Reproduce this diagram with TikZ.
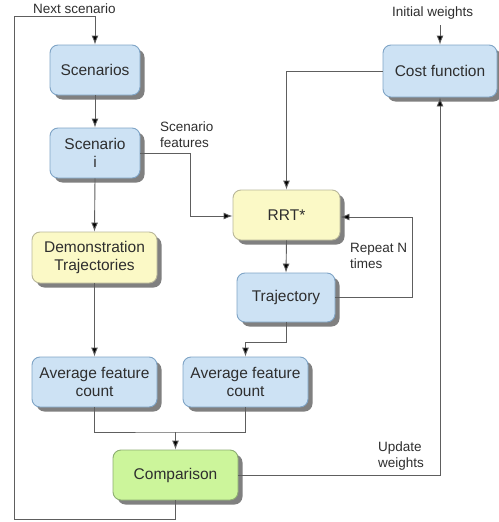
\documentclass[tikz,border=0pt]{standalone}
\usepackage{fontspec}
\setmainfont{Liberation Sans}
\usetikzlibrary{shadows,arrows.meta,calc}
\definecolor{bfill}{HTML}{CDE2F4}
\definecolor{bdraw}{HTML}{7FA4C6}
\definecolor{yfill}{HTML}{FBF9C6}
\definecolor{ydraw}{HTML}{B9B79A}
\definecolor{gfill}{HTML}{CCF59B}
\definecolor{gdraw}{HTML}{8DAE72}
\definecolor{txt}{HTML}{2E2E2E}
\definecolor{ln}{HTML}{5E5E5E}
\tikzset{
  boxbase/.style={rounded corners=8pt, line width=0.9pt, text=txt, align=center,
    font=\fontsize{15.5}{18.5}\selectfont,
    drop shadow={shadow xshift=4.5pt, shadow yshift=-4.5pt, fill=black!50, opacity=1}},
  bluebox/.style={boxbase, fill=bfill, draw=bdraw},
  yellowbox/.style={boxbase, fill=yfill, draw=ydraw},
  greenbox/.style={boxbase, fill=gfill, draw=gdraw},
  conn/.style={draw=ln, line width=0.9pt},
  arr/.style={conn, -{Latex[length=9pt,width=7pt,fill=black]}},
  lbl/.style={text=txt, font=\fontsize{13.5}{16}\selectfont, inner sep=0pt}
}
\begin{document}
\begin{tikzpicture}[x=1pt,y=-1pt]
\useasboundingbox (0,0) rectangle (498,522);
\node[bluebox, minimum width=90pt, minimum height=50pt] (scn) at (95,70) {Scenarios};
\node[bluebox, minimum width=90pt, minimum height=50pt] (sci) at (95,153) {Scenario\\i};
\node[yellowbox, minimum width=125pt, minimum height=51pt] (demo) at (94.5,257.5) {Demonstration\\Trajectories};
\node[bluebox, minimum width=125pt, minimum height=50pt] (avgL) at (94.5,382) {Average feature\\count};
\node[bluebox, minimum width=125pt, minimum height=50pt] (avgR) at (245.5,382) {Average feature\\count};
\node[greenbox, minimum width=125pt, minimum height=50pt] (cmp) at (175.5,475) {Comparison};
\node[yellowbox, minimum width=107pt, minimum height=50pt] (rrt) at (286.5,215) {RRT*};
\node[bluebox, minimum width=98pt, minimum height=49pt] (traj) at (286,297.5) {Trajectory};
\node[bluebox, minimum width=114pt, minimum height=52pt] (cost) at (440,71) {Cost function};

\coordinate (iw) at (440,25);
\coordinate (m) at (175.5,432);

\draw[arr] (cmp.south) -- ++(0,19) -| (14,16) -| (scn.north);
\draw[arr] (scn.south) -- (sci.north);
\draw[arr] (sci.south) -- (demo.north);
\draw[arr] (sci.east) -| (190,216) -- (rrt.west |- 0,216);
\draw[arr] (iw) -- (cost.north);
\draw[arr] (cost.west) -| (rrt.north);
\draw[arr] (rrt.south) -- (traj.north);
\draw[arr] (traj.east) -| (412,217) -- (rrt.east |- 0,217);
\draw[arr] (traj.south) -- ++(0,20) -| (avgR.north);
\draw[arr] (demo.south) -- (avgL.north);
\draw[conn] (avgL.south) |- (m) -| (avgR.south);
\draw[arr] (m) -- (cmp.north);
\draw[arr] (cmp.east) -| (cost.south);

\node[lbl, anchor=west] (lnext) at (33,9) {Next scenario};
\node[lbl, anchor=west] (linit) at (392,13) {Initial weights};
\node[lbl, anchor=west, align=left] (lfeat) at (160,135) {Scenario\\features};
\node[lbl, anchor=west, align=left] (lrep) at (350,256) {Repeat N\\times};
\node[lbl, anchor=west, align=left] (lupd) at (378,456) {Update\\weights};
\end{tikzpicture}
\end{document}
